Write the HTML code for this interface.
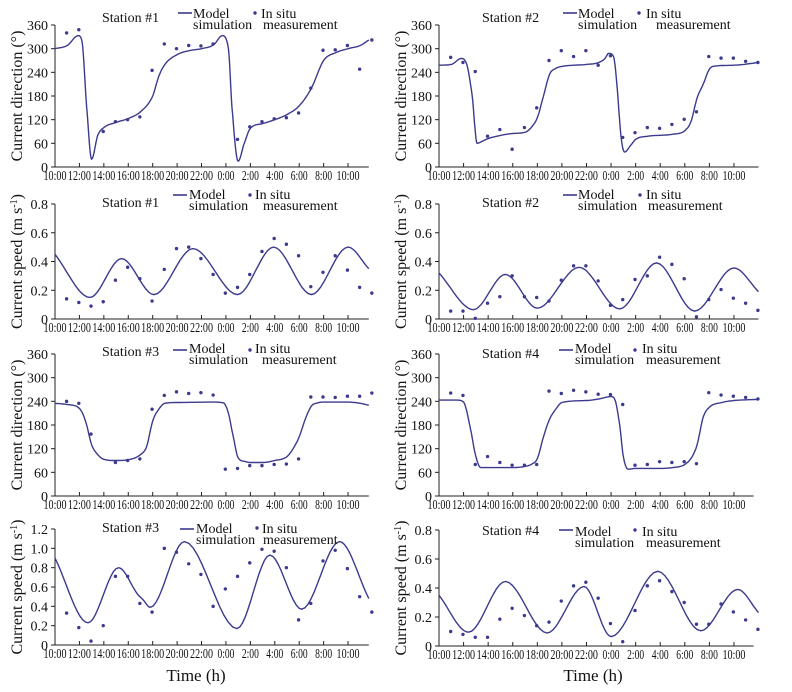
<!DOCTYPE html>
<html><head><meta charset="utf-8">
<style>
html,body{margin:0;padding:0;background:#fff;}
svg{display:block;font-family:"Liberation Serif",serif;}
.tk{font-size:14px;fill:#111;}
.xt{font-size:13.5px;fill:#111;}
.lg{font-size:14px;fill:#111;}
.yt{font-size:16px;fill:#111;}
</style></head>
<body>
<svg id="chart" width="792" height="692" viewBox="0 0 792 692"></svg>
<script>
// ---- data (t = hours since 10:00 of day 1) ----
const measTimes = [1,2,3,4,5,6,7,8,9,10,11,12,13,14,15,16,17,18,19,20,21,22,23,24,25,26];
const xTickHours = [0,2,4,6,8,10,12,14,16,18,20,22,24];
const xTickLabels = ["10:00","12:00","14:00","16:00","18:00","20:00","22:00","0:00","2:00","4:00","6:00","8:00","10:00"];
const dirTicks = [0,60,120,180,240,300,360];
const speedTicks08 = [0,0.2,0.4,0.6,0.8];
const speedTicks12 = [0,0.2,0.4,0.6,0.8,1.0,1.2];

const dir1Meas = [340,348,null,90,115,120,127,245,312,300,308,307,312,null,70,102,115,122,125,137,200,296,297,308,248,322];
const dir1ModelT = [0,1,1.9,2.2,2.6,3.0,3.5,4,5,6,7,8,8.5,9,10,11,12,13,13.7,14.2,14.5,15.0,15.5,16,17,18,19,20,21,22,23,24,25,25.7];
const dir1ModelV = [300,308,333,320,150,20,80,100,113,123,140,180,230,260,285,295,300,310,333,300,150,15,60,98,110,120,133,155,200,270,290,300,308,322];

const spd1Meas = [0.14,0.115,0.09,0.12,0.27,0.36,0.28,0.125,0.345,0.49,0.5,0.42,0.31,0.18,0.22,0.31,0.47,0.56,0.52,0.44,0.225,0.325,0.44,0.34,0.22,0.18];
const spd1ModelT = [0,2.86,5.45,8.1,11.3,14.95,17.9,21.0,24.0,25.7];
const spd1ModelV = [0.45,0.15,0.42,0.17,0.49,0.17,0.5,0.17,0.5,0.35];

const dir2Meas = [278,265,242,78,95,45,100,150,270,295,280,295,258,282,75,87,100,98,108,121,140,280,276,276,268,265];
const dir2ModelT = [0,1,1.8,2.2,2.7,3.1,3.5,4,5,6,7,7.5,8,8.5,9,9.5,10,12,13,13.5,13.8,14.2,14.5,14.8,15.1,15.6,16,17,19,20,20.5,21,21.5,22,22.5,24,26];
const dir2ModelV = [258,260,275,265,180,60,65,72,80,85,88,100,125,180,235,250,255,260,265,275,288,280,200,80,38,55,70,78,83,92,115,175,210,248,256,258,265];

const spd2Meas = [0.055,0.055,0.005,0.11,0.155,0.30,0.155,0.15,0.125,0.27,0.37,0.37,0.265,0.095,0.135,0.275,0.30,0.43,0.38,0.28,0.015,0.135,0.205,0.145,0.11,0.06];
const spd2ModelT = [0,2.8,5.4,8.0,11.4,14.7,17.7,20.8,24.0,26];
const spd2ModelV = [0.32,0.065,0.31,0.075,0.36,0.07,0.39,0.055,0.355,0.19];

const dir3Meas = [240,235,157,null,85,90,94,220,255,264,260,262,256,68,70,77,77,80,81,94,251,251,250,253,253,261];
const dir3ModelT = [0,1,2,2.5,3,3.5,4,5,6,7,7.5,8,8.5,9,10,13,13.8,14.2,14.6,15,15.5,16,17,18,19,19.5,20,20.5,21,21.5,22,24,25,25.7];
const dir3ModelV = [235,232,222,190,130,105,93,90,92,105,125,190,220,235,237,238,236,210,150,97,88,85,85,90,100,120,150,195,228,236,238,238,235,230];

const dir4Meas = [261,255,80,100,85,78,78,80,266,260,268,264,258,257,232,78,80,87,85,87,82,262,256,253,250,246];
const dir4ModelT = [0,1.5,2,2.5,3,3.4,4,6,7,7.5,8,8.5,9,9.5,10,12,13,14,14.3,14.7,15,15.4,16,18,19,20,20.6,21,21.5,22,23,24,26];
const dir4ModelV = [243,243,238,180,100,72,72,72,75,80,95,150,195,220,237,242,246,252,245,180,100,68,70,70,72,80,100,130,200,225,237,242,245];

const spd3Meas = [0.33,0.18,0.04,0.20,0.71,0.71,0.43,0.34,1.0,0.96,0.84,0.73,0.40,0.58,0.71,0.85,0.99,0.97,0.80,0.26,0.43,0.87,0.98,0.79,0.50,0.34];
const spd3ModelT = [0,2.7,5.2,6.8,7.2,7.8,10.6,14.9,17.6,20.2,23.3,25.7];
const spd3ModelV = [0.9,0.23,0.80,0.52,0.47,0.39,1.07,0.17,0.93,0.37,1.07,0.48];

const spd4Meas = [0.10,0.08,0.06,0.06,0.185,0.26,0.21,0.14,0.165,0.31,0.415,0.44,0.33,0.155,0.03,0.245,0.415,0.45,0.375,0.30,0.15,0.15,0.29,0.235,0.18,0.115];
const spd4ModelT = [0,2.4,5.4,8.8,11.8,14.0,17.8,21.3,24.3,26];
const spd4ModelV = [0.35,0.095,0.445,0.09,0.41,0.065,0.515,0.105,0.39,0.23];

const panels = [
 {id:'dir-station-1',st:'Station #1',ytitle:'Current direction (°)',x0:55,tEnd:25.7,pxh:12.21,yTop:25,yBot:167,max:360,ticks:dirTicks,dec:0,meas:dir1Meas,mt:dir1ModelT,mv:dir1ModelV,
  leg:{sx:102,sy:22,lx:178,ly:13,mx:193,my:18,dx:255,dy:13,ix:261,ex:263}},
 {id:'dir-station-2',st:'Station #2',ytitle:'Current direction (°)',x0:439,tEnd:26,pxh:12.29,yTop:25,yBot:167,max:360,ticks:dirTicks,dec:0,meas:dir2Meas,mt:dir2ModelT,mv:dir2ModelV,
  leg:{sx:482,sy:22,lx:563,ly:13,mx:578,my:18,dx:639,dy:13,ix:646,ex:656}},
 {id:'speed-station-1',st:'Station #1',ytitle:'Current speed (m s',x0:55,tEnd:25.7,pxh:12.21,yTop:204,yBot:319,max:0.8,ticks:speedTicks08,dec:1,meas:spd1Meas,mt:spd1ModelT,mv:spd1ModelV,
  leg:{sx:102,sy:207,lx:173,ly:195,mx:189,my:199,dx:250,dy:195,ix:255,ex:263}},
 {id:'speed-station-2',st:'Station #2',ytitle:'Current speed (m s',x0:439,tEnd:26,pxh:12.29,yTop:204,yBot:319,max:0.8,ticks:speedTicks08,dec:1,meas:spd2Meas,mt:spd2ModelT,mv:spd2ModelV,
  leg:{sx:482,sy:207,lx:563,ly:195,mx:578,my:199,dx:640,dy:195,ix:646,ex:648}},
 {id:'dir-station-3',st:'Station #3',ytitle:'Current direction (°)',x0:55,tEnd:25.7,pxh:12.21,yTop:354,yBot:496,max:360,ticks:dirTicks,dec:0,meas:dir3Meas,mt:dir3ModelT,mv:dir3ModelV,
  leg:{sx:102,sy:356,lx:173,ly:350,mx:189,my:353,dx:250,dy:350,ix:255,ex:262}},
 {id:'dir-station-4',st:'Station #4',ytitle:'Current direction (°)',x0:439,tEnd:25.6,pxh:12.29,yTop:354,yBot:496,max:360,ticks:dirTicks,dec:0,meas:dir4Meas,mt:dir4ModelT,mv:dir4ModelV,
  leg:{sx:482,sy:358,lx:559,ly:350,mx:575,my:353,dx:635,dy:350,ix:642,ex:646}},
 {id:'speed-station-3',st:'Station #3',ytitle:'Current speed (m s',x0:55,tEnd:25.7,pxh:12.21,yTop:529,yBot:645,max:1.2,ticks:speedTicks12,dec:1,meas:spd3Meas,mt:spd3ModelT,mv:spd3ModelV,
  leg:{sx:102,sy:532,lx:180,ly:529,mx:196,my:533,dx:257,dy:528,ix:262,ex:263}},
 {id:'speed-station-4',st:'Station #4',ytitle:'Current speed (m s',x0:439,tEnd:25.6,pxh:12.29,yTop:530,yBot:646,max:0.8,ticks:speedTicks08,dec:1,meas:spd4Meas,mt:spd4ModelT,mv:spd4ModelV,
  leg:{sx:482,sy:535,lx:559,ly:530,mx:575,my:536,dx:635,dy:530,ix:642,ex:646}}
];

const NS='http://www.w3.org/2000/svg';
const svg=document.getElementById('chart');
const COL='#3b3a8e';
function mk(tag,attrs,parent){const e=document.createElementNS(NS,tag);for(const k in attrs)e.setAttribute(k,attrs[k]);(parent||svg).appendChild(e);return e;}

function monotone(xs,ys){
  const n=xs.length,d=[],m=new Array(n);
  for(let i=0;i<n-1;i++)d.push((ys[i+1]-ys[i])/(xs[i+1]-xs[i]));
  m[0]=d[0];m[n-1]=d[n-2];
  for(let i=1;i<n-1;i++){m[i]=(d[i-1]*d[i]<=0)?0:(d[i-1]+d[i])/2;}
  for(let i=0;i<n-1;i++){if(d[i]===0){m[i]=0;m[i+1]=0;continue;}
    const a=m[i]/d[i],b=m[i+1]/d[i],s=a*a+b*b;if(s>9){const t=3/Math.sqrt(s);m[i]=t*a*d[i];m[i+1]=t*b*d[i];}}
  const pts=[];
  for(let i=0;i<n-1;i++){const h=xs[i+1]-xs[i];
    for(let k=0;k<12;k++){const u=k/12,h00=2*u*u*u-3*u*u+1,h10=u*u*u-2*u*u+u,h01=-2*u*u*u+3*u*u,h11=u*u*u-u*u;
      pts.push([xs[i]+u*h,h00*ys[i]+h10*h*m[i]+h01*ys[i+1]+h11*h*m[i+1]]);}}
  pts.push([xs[n-1],ys[n-1]]);return pts;
}

panels.forEach(p=>{
  const g=mk('g',{});
  
  
  const X=t=>p.x0+t*p.pxh, Y=v=>p.yBot-(v/p.max)*(p.yBot-p.yTop);
  const xEnd=X(p.tEnd);
  const ax=mk('path',{d:`M${p.x0},${p.yTop} L${p.x0},${p.yBot} L${xEnd},${p.yBot}`,stroke:'#222','stroke-width':1,fill:'none'},g);
  
  
  p.ticks.forEach(v=>{
    mk('line',{x1:p.x0-4,x2:p.x0,y1:Y(v),y2:Y(v),stroke:'#222'},g);
    const t=mk('text',{x:p.x0-7,y:Y(v)+5,'text-anchor':'end',class:'tk'},g);
    t.textContent=p.dec?v.toFixed(1):String(v);
    if(v===0)t.textContent='0';
    
    
  });
  xTickHours.forEach((h,i)=>{
    mk('line',{x1:X(h),x2:X(h),y1:p.yBot,y2:p.yBot-4,stroke:'#222'},g);
    const lab=xTickLabels[i];
    const w=lab.length===5?23:17;
    const t=mk('text',{x:X(h)-w/2,y:p.yBot+13,class:'xt',textLength:w,lengthAdjust:'spacingAndGlyphs'},g);
    t.textContent=lab;
    
    
  });
  const cy=(p.yTop+p.yBot)/2, tx=p.x0-33;
  const yt=mk('text',{x:tx,y:cy,transform:`rotate(-90 ${tx} ${cy})`,'text-anchor':'middle',class:'yt'},g);
  if(p.ytitle.indexOf('speed')>=0){yt.textContent=p.ytitle;const s=mk('tspan',{dy:-5,'font-size':10},yt);s.textContent='-1';const s2=mk('tspan',{dy:5},yt);s2.textContent=')';}
  else yt.textContent=p.ytitle;
  
  
  const pts=monotone(p.mt,p.mv);
  const ln=mk('path',{d:pts.map((q,i)=>(i?'L':'M')+X(q[0]).toFixed(1)+','+Y(q[1]).toFixed(1)).join(''),stroke:COL,'stroke-width':1.4,fill:'none'},g);
  
  
  p.meas.forEach((v,i)=>{
    if(v===null)return;
    const c=mk('circle',{cx:X(measTimes[i]-0.05),cy:Y(v),r:1.7,fill:COL},g);
    
    
  });
  const L=p.leg;
  const st=mk('text',{x:L.sx,y:L.sy,class:'lg'},g);st.textContent=p.st;
  
  
  const ll=mk('line',{x1:L.lx,x2:L.lx+14,y1:L.ly,y2:L.ly,stroke:COL,'stroke-width':1.6},g);
  
  
  const m1=mk('text',{x:L.mx,y:L.my,class:'lg'},g);m1.textContent='Model';
  
  
  const m2=mk('text',{x:L.mx,y:L.my+11,class:'lg'},g);m2.textContent='simulation';
  
  
  const dd=mk('circle',{cx:L.dx,cy:L.dy,r:1.7,fill:COL},g);
  
  
  const i1=mk('text',{x:L.ix,y:L.my,class:'lg'},g);i1.textContent='In situ';
  
  
  const i2=mk('text',{x:L.ex,y:L.my+11,class:'lg'},g);i2.textContent='measurement';
  
  
});
const xl1=mk('text',{x:196,y:681,'text-anchor':'middle','font-size':17,fill:'#111'});xl1.textContent='Time (h)';


const xl2=mk('text',{x:593,y:681,'text-anchor':'middle','font-size':17,fill:'#111'});xl2.textContent='Time (h)';


</script>
</body></html>
